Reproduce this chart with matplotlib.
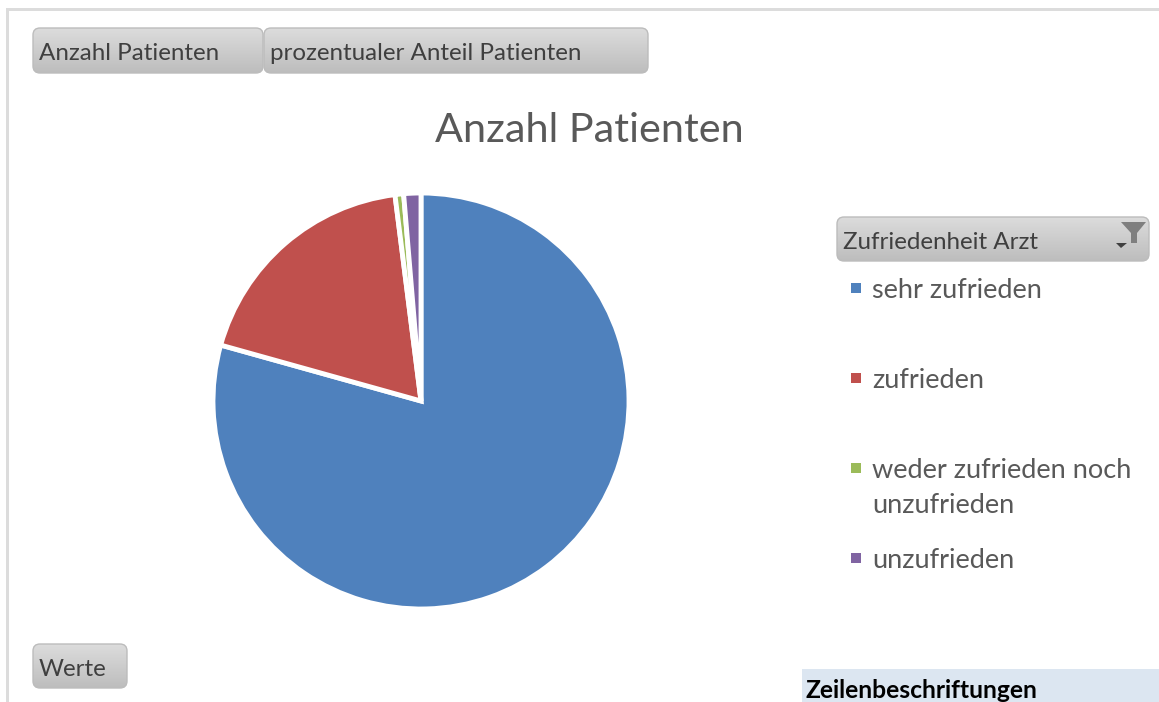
import numpy as np
import matplotlib
matplotlib.use('Agg')
import matplotlib.pyplot as plt
from matplotlib.patches import FancyBboxPatch, Rectangle, Polygon

plt.rcParams['font.family'] = ['Lato', 'DejaVu Sans']

W, H = 1159, 702

categories = ['sehr zufrieden', 'zufrieden', 'weder zufrieden noch\nunzufrieden', 'unzufrieden']
patienten = [119, 28, 1, 2]
farben = ['#4f81bd', '#c0504d', '#9bbb59', '#8064a2']
legend_y = [288, 378, 468, 558]

title = 'Anzahl Patienten'
field_buttons = [('Anzahl Patienten', 33, 28, 230, 45),
                 ('prozentualer Anteil Patienten', 264, 28, 384, 45),
                 ('Werte', 33, 644, 94, 44),
                 ('Zufriedenheit Arzt', 837, 217, 312, 44)]

cmap = matplotlib.colors.LinearSegmentedColormap.from_list('btn', ['#dcdcdc', '#bdbdbd'])


def draw_button(ax, label, x, y, w, h):
    box = FancyBboxPatch((x + 7, y + 7), w - 14, h - 14, boxstyle='round,pad=7',
                         facecolor='none', edgecolor='#bcbcbc', linewidth=1, zorder=3)
    ax.add_patch(box)
    grad = np.linspace(0, 1, 64).reshape(-1, 1)
    im = ax.imshow(grad, extent=(x, x + w, y + h, y), cmap=cmap, vmin=0, vmax=1,
                   aspect='auto', zorder=2)
    im.set_clip_path(box)
    ax.text(x + 6, y + h / 2 + 3.5, label, fontsize=17.4, color='#3f3f3f',
            ha='left', va='center', zorder=4)


fig = plt.figure(figsize=(W / 100, H / 100), dpi=100, facecolor='white')

# overlay in pixel coordinates for the pivot chart furniture
bg = fig.add_axes([0, 0, 1, 1])
bg.set_xlim(0, W)
bg.set_ylim(H, 0)
bg.axis('off')
bg.add_patch(Rectangle((6, 8), W, 3, facecolor='#dcdcdc', edgecolor='none'))
bg.add_patch(Rectangle((6, 8), 3, H, facecolor='#dcdcdc', edgecolor='none'))

for label, x, y, w, h in field_buttons:
    draw_button(bg, label, x, y, w, h)
bg.set_xlim(0, W)
bg.set_ylim(H, 0)

# filter icon and dropdown arrow on the legend field
bg.add_patch(Polygon([(1121, 222), (1146, 222), (1137, 233), (1137, 243), (1131, 243), (1131, 233)],
                     facecolor='#7f7f7f', edgecolor='none', zorder=5))
bg.add_patch(Polygon([(1116, 243), (1127, 243), (1121, 248)],
                     facecolor='#404040', edgecolor='none', zorder=5))

bg.text(589, 130, title, fontsize=29.8, color='#595959', ha='center', va='center')

for cat, col, y in zip(categories, farben, legend_y):
    bg.add_patch(Rectangle((851, y - 5), 10, 10, facecolor=col, edgecolor='none'))
    bg.text(872, y - 10, cat, fontsize=19.5, color='#595959', ha='left', va='top',
            linespacing=1.5)

# table header cut off by the lower edge
bg.add_patch(Rectangle((802, 669), W - 802, H - 669, facecolor='#dce6f1', edgecolor='none'))
bg.text(805, 690, 'Zeilenbeschriftungen', fontsize=17.7, fontweight='bold', color='black',
        ha='left', va='center', clip_on=True)

# pie
r = 208
cx, cy = 421, 401
ax = fig.add_axes([(cx - r) / W, 1 - (cy + r) / H, 2 * r / W, 2 * r / H])
ax.pie(patienten, colors=farben, startangle=90, counterclock=False, radius=1,
       wedgeprops=dict(edgecolor='white', linewidth=3.5))
ax.set_xlim(-1, 1)
ax.set_ylim(-1, 1)

fig.savefig('out.png', dpi=100)
